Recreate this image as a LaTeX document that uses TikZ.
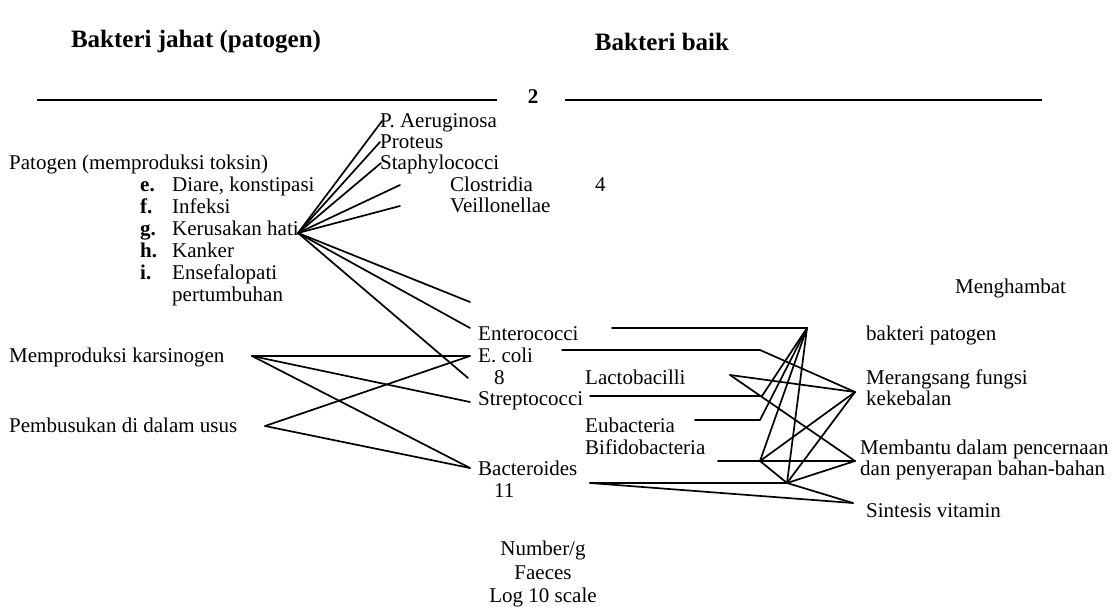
\documentclass[tikz,border=0pt]{standalone}
\usepackage{fontspec}
\setmainfont{Liberation Serif}
\tikzset{
  txt/.style={anchor=west, inner sep=0pt, text height=0.6em, text depth=0pt},
  ttl/.style={inner sep=0pt, font=\fontsize{25pt}{30pt}\selectfont\bfseries},
  link/.style={line width=1.7pt, line join=round, line cap=round},
  rule/.style={line width=1.2pt}
}
\begin{document}
\begin{tikzpicture}[x=1pt, y=-1pt, font=\fontsize{21pt}{23.5pt}\selectfont]
    \useasboundingbox (0,0) rectangle (1119,610);
    % headings
    \node[ttl] (tjahat) at (196,42) {Bakteri jahat (patogen)};
    \node[ttl] (tbaik) at (662,42) {Bakteri baik};
    \coordinate (rla) at (37,100);  \coordinate (rlb) at (497,100);
    \coordinate (rra) at (565,100); \coordinate (rrb) at (1042,100);
    \draw[rule] (rla) -- (rlb);
    \draw[rule] (rra) -- (rrb);
    \node[inner sep=0pt, font=\fontsize{21pt}{24pt}\selectfont\bfseries] (two) at (533,97) {2};
    % upper fan
    \node[txt] (paer) at (380,124) {P. Aeruginosa};
    \node[txt] (prot) at (380,145) {Proteus};
    \node[txt] (staph) at (380,166) {Staphylococci};
    \node[txt] (clos) at (450,188) {Clostridia};
    \node[txt] (four) at (595,188) {4};
    \node[txt] (veil) at (450,209) {Veillonellae};
    \node[txt] (patogen) at (9,166) {Patogen (memproduksi toksin)};
    \foreach \l/\t [count=\i] in {e./{Diare, konstipasi}, f./Infeksi, g./{Kerusakan hati}, h./Kanker, i./Ensefalopati}{
        \node[txt, font=\fontsize{21pt}{24pt}\selectfont\bfseries] (li\i) at (140,{188+(\i-1)*22}) {\l};
        \node[txt] (lt\i) at (172,{188+(\i-1)*22}) {\t};
    }
    \node[txt] (pert) at (172,298) {pertumbuhan};
    \coordinate (hubA) at (298,233);
    \coordinate (fa1) at (382,121); \coordinate (fa2) at (380,142);
    \coordinate (fa3) at (381,163); \coordinate (fa4) at (400,185);
    \coordinate (fa5) at (400,206);
    \coordinate (fb1) at (470,302); \coordinate (fb2) at (470,328);
    \coordinate (fb3) at (468,378);
    \foreach \p in {fa1,fa2,fa3,fa4,fa5,fb1,fb2,fb3}
        \draw[link] (hubA) -- (\p);
    % middle column
    \node[txt] (entero) at (478,337) {Enterococci};
    \node[txt] (ecoli) at (478,359) {E. coli};
    \node[txt] (eight) at (494,381) {8};
    \node[txt] (strep) at (478,402) {Streptococci};
    \node[txt] (bactero) at (478,472) {Bacteroides};
    \node[txt] (eleven) at (494,494) {11};
    \node[align=center, inner sep=0pt] (unit) at (543,574) {Number/g\\Faeces\\Log 10 scale};
    % left effects
    \node[txt] (karsino) at (9,359) {Memproduksi karsinogen};
    \node[txt] (busuk) at (9,429) {Pembusukan di dalam usus};
    \coordinate (pk) at (252,356); \coordinate (pb) at (265,426);
    \coordinate (ec) at (470,356); \coordinate (st) at (470,402);
    \coordinate (ba) at (470,468);
    \foreach \a/\b in {pk/ec, pk/st, pk/ba, pb/ec, pb/ba}
        \draw[link] (\a) -- (\b);
    % good bacteria
    \node[txt] (lacto) at (585,381) {Lactobacilli};
    \node[txt] (eubac) at (585,429) {Eubacteria};
    \node[txt] (bifido) at (585,451) {Bifidobacteria};
    \node[txt] (hambat) at (955,290) {Menghambat};
    \node[txt] (patbak) at (866,337) {bakteri patogen};
    \node[txt] (rangsang) at (866,381) {Merangsang fungsi};
    \node[txt] (kebal) at (866,402) {kekebalan};
    \node[txt] (bantu) at (860,451) {Membantu dalam pencernaan};
    \node[txt] (serap) at (860,472) {dan penyerapan bahan-bahan};
    \node[txt] (vitamin) at (866,514) {Sintesis vitamin};
    \coordinate (en0) at (612,328); \coordinate (hubB) at (807,328);
    \coordinate (ec0) at (562,350); \coordinate (k1) at (760,350);
    \coordinate (m2) at (855,392);  \coordinate (lv) at (730,375);
    \coordinate (la0) at (590,396); \coordinate (k2) at (762,396);
    \coordinate (eu0) at (695,420); \coordinate (k3) at (760,420);
    \coordinate (bi0) at (718,461); \coordinate (b1) at (760,461);
    \coordinate (m3) at (855,461);  \coordinate (ba0) at (590,483);
    \coordinate (b2) at (787,483);  \coordinate (sv) at (853,503);
    \draw[link] (en0) -- (hubB);
    \draw[link] (ec0) -- (k1) -- (m2);
    \draw[link] (la0) -- (k2) -- (hubB);
    \draw[link] (eu0) -- (k3) -- (hubB);
    \draw[link] (bi0) -- (m3);
    \foreach \a/\b in {b1/hubB, b1/m2, b1/b2, ba0/b2, ba0/sv, b2/hubB, b2/m2, b2/m3, b2/sv, lv/m2, lv/m3}
        \draw[link] (\a) -- (\b);
\end{tikzpicture}
\end{document}
